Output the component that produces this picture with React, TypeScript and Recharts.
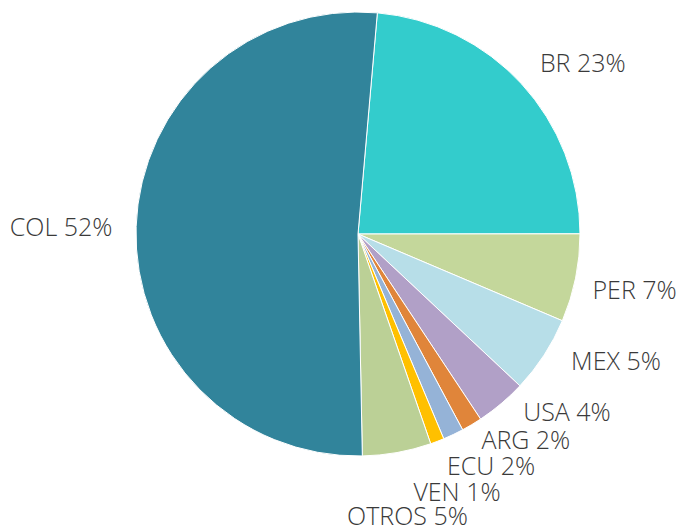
import { PieChart, Pie, Cell } from 'recharts';

// países y porcentajes
const countries = ['BR', 'PER', 'MEX', 'USA', 'ARG', 'ECU', 'VEN', 'OTROS', 'COL'];
const shares = [23.6, 6.4, 5.6, 3.7, 1.5, 1.5, 1.0, 5.0, 51.7];
const shareLabels = ['23%', '7%', '5%', '4%', '2%', '2%', '1%', '5%', '52%'];
const colors = ['#33CCCC', '#C4D79B', '#B7DEE8', '#B1A0C7', '#E0853A', '#95B3D7', '#FFC000', '#BBD096', '#31849B'];

// colocación de etiquetas: ángulo (grados, horario desde arriba) y radio
const labelAngle = [52.6, 101.2, 116, 130.3, 140.7, 150.1, 158.9, 170, 271.5];
const labelRadius = [283, 282, 287, 274, 265, 267, 275, 285, 297];

const data = countries.map((name, i) => ({ name, value: shares[i] }));

const renderLabel = (props: any) => {
  const { cx, cy, index } = props;
  const a = (labelAngle[index] * Math.PI) / 180;
  const r = labelRadius[index];
  const x = cx + r * Math.sin(a);
  const y = cy - r * Math.cos(a);
  return (
    <text
      x={x}
      y={y}
      textAnchor="middle"
      dominantBaseline="central"
      fill="#3a3a3a"
      fontSize={25}
      fontWeight={300}
      fontFamily="'Open Sans', sans-serif"
    >
      {`${countries[index]} ${shareLabels[index]}`}
    </text>
  );
};

export default function App() {
  return (
    <div style={{ position: 'fixed', left: 0, top: 0, width: 683, height: 527, background: '#fff' }}>
      <PieChart width={683} height={527} margin={{ top: 0, right: 0, bottom: 0, left: 0 }}>
        <Pie
          data={data}
          dataKey="value"
          nameKey="name"
          cx={358}
          cy={234}
          outerRadius={222}
          startAngle={85}
          endAngle={-275}
          stroke="#fff"
          strokeWidth={1}
          label={renderLabel}
          labelLine={false}
          isAnimationActive={false}
        >
          {data.map((d, i) => (
            <Cell key={d.name} fill={colors[i]} />
          ))}
        </Pie>
      </PieChart>
    </div>
  );
}
